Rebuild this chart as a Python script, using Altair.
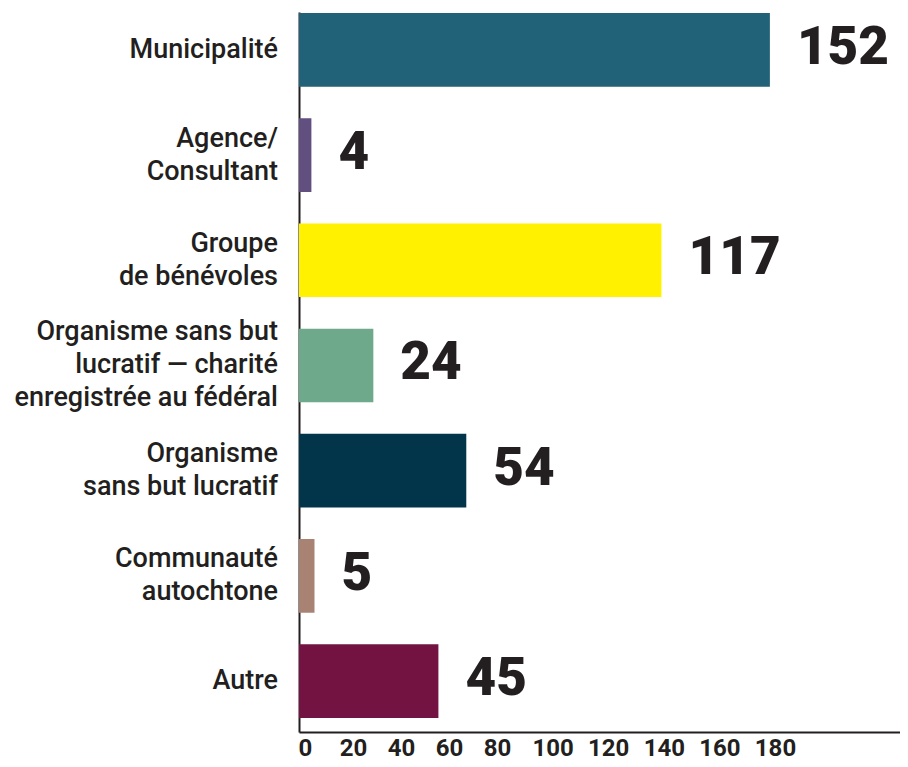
import altair as alt
import pandas as pd

categories = [
    "Municipalité",
    "Agence/|Consultant",
    "Groupe|de bénévoles",
    "Organisme sans but|lucratif — charité|enregistrée au fédéral",
    "Organisme|sans but lucratif",
    "Communauté|autochtone",
    "Autre",
]
values = [152, 4, 117, 24, 54, 5, 45]
colors = ["#216278", "#604f7f", "#fff100", "#6fa98c", "#02344a", "#a88373", "#731342"]
tick_labels = [0, 20, 40, 60, 80, 100, 120, 140, 160, 180]

df = pd.DataFrame({"cat": categories, "val": values, "col": colors})
ticks = pd.DataFrame({"t": tick_labels})

INK = "#231f20"
LINE_H = 33
HEIGHT = 720
P_IN, P_OUT = 0.3, 0.072
STEP = HEIGHT / (len(categories) - P_IN + 2 * P_OUT)
HALF_BAND = (1 - P_IN) * STEP / 2

y_enc = alt.Y(
    "cat:N",
    sort=categories,
    title=None,
    scale=alt.Scale(paddingInner=P_IN, paddingOuter=P_OUT, align=0.07),
    axis=alt.Axis(labels=False, ticks=False, domainColor=INK, domainWidth=2),
)

x_enc = alt.X(
    "val:Q",
    scale=alt.Scale(domain=[0, 194], nice=False),
    axis=alt.Axis(labels=False, ticks=False, grid=False, title=None,
                  domainColor=INK, domainWidth=2, orient="bottom"),
)

bars = alt.Chart(df).mark_bar().encode(
    x=x_enc,
    y=y_enc,
    color=alt.Color("col:N", scale=None),
)

values_text = alt.Chart(df).mark_text(
    align="left", baseline="alphabetic", dx=27, dy=14,
    font="Roboto", fontSize=53, fontWeight=900, color=INK,
).encode(
    x=alt.X("val:Q"),
    y=alt.Y("cat:N", sort=categories),
    text=alt.Text("val:Q"),
)

cat_text = alt.Chart(df).transform_calculate(
    off=f"{HALF_BAND} - (length(split(datum.cat, '|')) - 1) * {LINE_H / 2}"
).mark_text(
    align="right", baseline="middle", dx=-21, lineBreak="|", lineHeight=LINE_H,
    font="Roboto", fontSize=27, fontWeight=500, color=INK,
).encode(
    x=alt.value(0),
    y=alt.Y("cat:N", sort=categories),
    yOffset=alt.YOffset("off:Q", scale=None),
    text="cat:N",
)

main = alt.layer(bars, values_text, cat_text)

tick_layer = alt.Chart(ticks).mark_tick(opacity=0).encode(
    x=alt.X(
        "t:Q",
        scale=alt.Scale(domain=[0, 80, 180], range=[6, 198, 476]),
        axis=alt.Axis(
            values=tick_labels, orient="bottom", domain=False, ticks=False, grid=False,
            title=None, labelFont="Roboto", labelFontSize=24, labelFontWeight=700,
            labelColor=INK, labelPadding=4, labelAlign="center",
        ),
    ),
)

chart = (
    alt.layer(main, tick_layer)
    .resolve_scale(x="independent")
    .properties(
        width=601,
        height=HEIGHT,
        autosize=alt.AutoSizeParams(type="none"),
        padding={"left": 291, "top": 4, "right": 0, "bottom": 40},
    )
    .configure_view(stroke=None)
    .configure_axis(grid=False)
)

chart.save("out.html", embed_options={"renderer": "svg", "actions": False})
